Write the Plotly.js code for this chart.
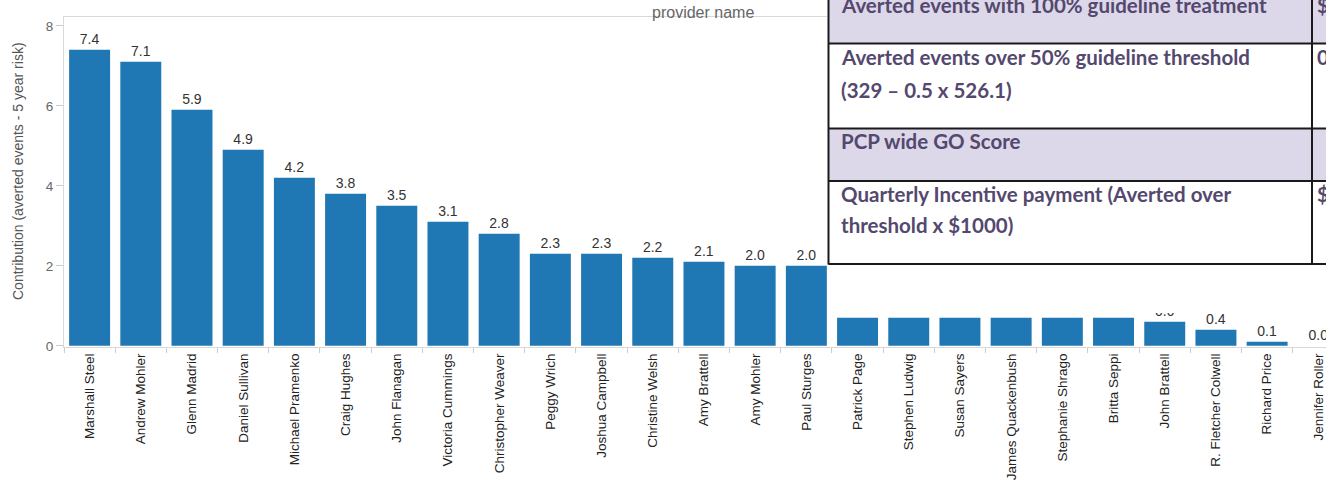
<!DOCTYPE html>
<html>
<head>
<meta charset="utf-8">
<script src="https://cdn.plot.ly/plotly-3.0.1.min.js"></script>
<style>html,body{margin:0;padding:0;background:#fff;}#chart{width:1326px;height:485px;}</style>
</head>
<body>
<div id="chart"></div>
<script>
const providers = ["Marshall Steel","Andrew Mohler","Glenn Madrid","Daniel Sullivan","Michael Pramenko","Craig Hughes","John Flanagan","Victoria Cummings","Christopher Weaver","Peggy Wrich","Joshua Campbell","Christine Welsh","Amy Brattell","Amy Mohler","Paul Sturges","Patrick Page","Stephen Ludwig","Susan Sayers","James Quackenbush","Stephanie Shrago","Britta Seppi","John Brattell","R. Fletcher Colwell","Richard Price","Jennifer Roller"];
const contribution = [7.4,7.1,5.9,4.9,4.2,3.8,3.5,3.1,2.8,2.3,2.3,2.2,2.1,2.0,2.0,0.7,0.7,0.7,0.7,0.7,0.7,0.6,0.4,0.1,0.0];
const yTickVals = [0,2,4,6,8];
const tableLines = [
  ["Averted events with 100% guideline treatment"],
  ["Averted events over 50% guideline threshold", "(329 – 0.5 x 526.1)"],
  ["PCP wide GO Score"],
  ["Quarterly Incentive payment (Averted over", "threshold x $1000)"]
];
const tableCol2 = ["$", "0", "", "$"];

const W = 1326, H = 485, L = 64, R = 0, T = 17, B = 138;
const PW = W - L - R, PH = H - T - B;
const xp = px => (px - L) / PW;
const yp = py => 1 - (py - T) / PH;

const lavender = "#dcd7e9";
const tableText = "#54486e";
const rowY = [-10, 43.6, 128.5, 181, 264];
const lineY = [[5], [57, 90], [141], [194, 225]];
const tblL = 828.5, tblC = 1312, tblR = 1340;
const tFont = {family:"Lato, 'Open Sans', sans-serif", size:20.5, color:tableText, weight:"bold"};

const shapes = [];
shapes.push({type:"rect", xref:"paper", yref:"paper", x0:xp(827), x1:xp(1330), y0:yp(-5), y1:yp(313), fillcolor:"#fff", line:{width:0}, layer:"above"});
for (let i = 0; i < 4; i++) {
  if (i % 2 === 0) {
    shapes.push({type:"rect", xref:"paper", yref:"paper", x0:xp(tblL), x1:xp(tblR), y0:yp(rowY[i]), y1:yp(rowY[i+1]), fillcolor:lavender, line:{width:0}, layer:"above"});
  }
}
for (let i = 1; i < rowY.length; i++) {
  shapes.push({type:"line", xref:"paper", yref:"paper", x0:xp(tblL), x1:xp(tblR), y0:yp(rowY[i]), y1:yp(rowY[i]), line:{color:"#1a1a1a", width:2}, layer:"above"});
}
shapes.push({type:"line", xref:"paper", yref:"paper", x0:xp(tblL), x1:xp(tblL), y0:yp(-10), y1:yp(264.4), line:{color:"#1a1a1a", width:2}, layer:"above"});
shapes.push({type:"line", xref:"paper", yref:"paper", x0:xp(tblC), x1:xp(tblC), y0:yp(-10), y1:yp(264.4), line:{color:"#1a1a1a", width:2}, layer:"above"});

const annotations = [];
tableLines.forEach((lines, i) => {
  lines.forEach((t, j) => {
    annotations.push({xref:"paper", yref:"paper", x:xp(839), y:yp(lineY[i][j]), xanchor:"left", yanchor:"middle", align:"left", showarrow:false, text:t, font:tFont});
  });
  if (tableCol2[i]) {
    annotations.push({xref:"paper", yref:"paper", x:xp(1315), y:yp(lineY[i][0]), xanchor:"left", yanchor:"middle", showarrow:false, text:tableCol2[i], font:tFont});
  }
});
annotations.push({xref:"paper", yref:"paper", x:xp(703), y:yp(12.5), xanchor:"center", yanchor:"middle", showarrow:false, text:"provider name", font:{family:"Liberation Sans, Arial, sans-serif", size:16, color:"#666"}});
annotations.push({xref:"paper", yref:"paper", x:xp(18), y:yp(171), xanchor:"center", yanchor:"middle", showarrow:false, textangle:-90, text:"Contribution (averted events - 5 year risk)", font:{family:"Liberation Sans, Arial, sans-serif", size:14, color:"#555"}});

const trace = {
  type:"bar", x:providers, y:contribution,
  marker:{color:"#1f77b4", line:{width:0}},
  texttemplate:"%{y:.1f}", textposition:"outside", cliponaxis:false,
  textfont:{family:"Liberation Sans, Arial, sans-serif", size:14, color:"#333"},
  hoverinfo:"x+y"
};

const layout = {
  width:W, height:H, margin:{l:L, r:R, t:T, b:B, pad:0},
  paper_bgcolor:"#fff", plot_bgcolor:"#fff",
  bargap:0.2, showlegend:false,
  xaxis:{type:"category", range:[-0.5, 24.15], tickson:"boundaries", ticks:"outside", ticklen:5, tickcolor:"#ccc",
    showline:true, mirror:true, linecolor:"#d9d9d9", linewidth:1, tickangle:-90, showgrid:false,
    tickfont:{family:"Liberation Sans, Arial, sans-serif", size:13.5, color:"#222"}},
  yaxis:{range:[-0.03, 8.22], tickvals:yTickVals, ticks:"outside", ticklen:7, tickcolor:"#ccc",
    showline:true, linecolor:"#d9d9d9", showgrid:false, zeroline:false,
    tickfont:{family:"Liberation Sans, Arial, sans-serif", size:13.5, color:"#666"}},
  shapes:shapes, annotations:annotations
};

Plotly.newPlot("chart", [trace], layout, {displayModeBar:false, staticPlot:true});
</script>
</body>
</html>
